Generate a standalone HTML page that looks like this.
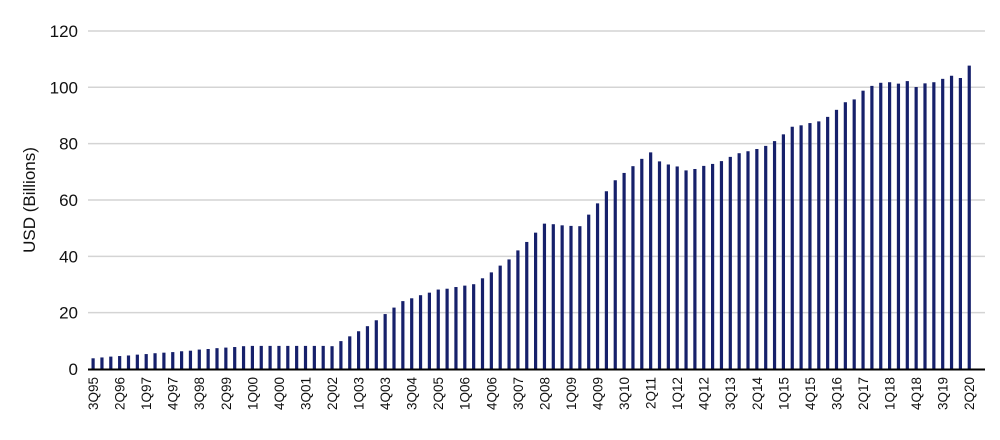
<!DOCTYPE html>
<html><head><meta charset="utf-8"><style>
body{margin:0;background:#fff;}
svg{display:block;font-family:"Liberation Sans",Arial,sans-serif;}
</style></head><body>
<svg id="chart" width="1000" height="440" xmlns="http://www.w3.org/2000/svg">
<text transform="translate(35,200) rotate(-90)" text-anchor="middle" font-size="17" fill="#111">USD (Billions)</text>
<g id="grid"></g><g id="bars"></g><g id="xlabels"></g><g id="ylabels"></g>
</svg>
<script>
const values=[3.8,4.1,4.4,4.6,4.8,5.1,5.3,5.6,5.8,6.0,6.3,6.5,6.9,7.1,7.4,7.6,7.8,8.1,8.2,8.2,8.2,8.2,8.2,8.2,8.2,8.2,8.2,8.1,
9.9,11.6,13.4,15.2,17.3,19.5,21.8,24.1,25.1,26.2,27.1,28.2,28.5,29.1,29.6,30.1,32.2,34.3,36.7,38.9,42.1,45.1,48.4,51.6,51.4,51.0,50.8,50.7,
54.8,58.8,63.1,67.0,69.6,72.0,74.6,76.9,73.7,72.6,71.9,70.5,71.0,72.1,72.8,73.8,75.3,76.6,77.3,78.1,79.2,80.9,83.3,86.0,86.5,87.3,87.9,89.5,
92.0,94.7,95.7,98.8,100.5,101.6,101.8,101.3,102.2,100.1,101.4,101.8,103.0,104.1,103.3,107.7];
const startYear=1995, startQ=3;
const yTicks=[0,20,40,60,80,100,120];
const NS="http://www.w3.org/2000/svg";
const y0=369, yScale=2.817, x0=93, step=8.85;
const y=v=>y0-v*yScale, x=i=>x0+i*step;
const grid=document.getElementById('grid'), bars=document.getElementById('bars'), xl=document.getElementById('xlabels'), yl=document.getElementById('ylabels');
yTicks.forEach(t=>{
  if(t>0){const l=document.createElementNS(NS,'line');
  
  
  l.setAttribute('x1',88);l.setAttribute('x2',985);l.setAttribute('y1',y(t));l.setAttribute('y2',y(t));
  l.setAttribute('stroke','#d4d4d4');l.setAttribute('stroke-width','1.5');grid.appendChild(l);}
  const tx=document.createElementNS(NS,'text');
  
  
  tx.setAttribute('x',78);tx.setAttribute('y',y(t)+6);tx.setAttribute('text-anchor','end');tx.setAttribute('font-size','17');tx.setAttribute('fill','#111');
  tx.textContent=t;yl.appendChild(tx);
});
values.forEach((v,i)=>{
  const r=document.createElementNS(NS,'rect');
  
  
  r.setAttribute('x',x(i)-1.5);r.setAttribute('y',y(v));r.setAttribute('width',3.2);r.setAttribute('height',v*yScale);r.setAttribute('fill','#16206b');
  bars.appendChild(r);
  if(i%3===0){
    const qi=startQ-1+i, yr=startYear+Math.floor(qi/4), q=qi%4+1;
    const tx=document.createElementNS(NS,'text');
    
    
    tx.setAttribute('transform','translate('+(x(i)+5)+',377) rotate(-90)');
    tx.setAttribute('text-anchor','end');tx.setAttribute('font-size','13.5');tx.setAttribute('fill','#111');
    tx.textContent=q+'Q'+String(yr%100).padStart(2,'0');xl.appendChild(tx);
  }
});
const ax=document.createElementNS(NS,'line');


ax.setAttribute('x1',88);ax.setAttribute('x2',985);ax.setAttribute('y1',y0+0.5);ax.setAttribute('y2',y0+0.5);ax.setAttribute('stroke','#000');ax.setAttribute('stroke-width','2');
document.getElementById('chart').appendChild(ax);
</script>
</body></html>
